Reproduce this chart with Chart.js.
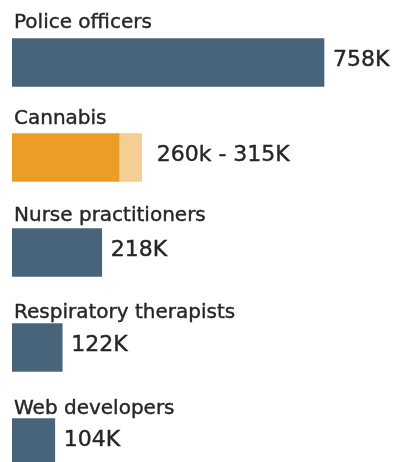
<!DOCTYPE html>
<html>
<head>
<meta charset="utf-8">
<script src="https://cdn.jsdelivr.net/npm/chart.js@4"></script>
<style>
  html, body { margin: 0; padding: 0; background: #fff; overflow: hidden; }
  #wrap { width: 402px; height: 490px; }
</style>
</head>
<body>
<div id="wrap"><canvas id="barChart" width="402" height="490"></canvas></div>
<script>
const categories = ["Police officers", "Cannabis", "Nurse practitioners", "Respiratory therapists", "Web developers"];
const jobs = [758, 260, 218, 122, 104];
const cannabisHigh = [null, [260, 315], null, null, null];
const valueLabels = ["758K", "260k - 315K", "218K", "122K", "104K"];

const slate = "#48647a";
const orange = "#eb9d28";
const lightOrange = "#f5ce93";

// draws the category name above each bar and the value to its right
const rowLabels = {
    id: "rowLabels",
    afterDatasetsDraw(chart) {
        const ctx = chart.ctx;
        const meta0 = chart.getDatasetMeta(0);
        const meta1 = chart.getDatasetMeta(1);
        ctx.save();
        ctx.fillStyle = "#262626";
        ctx.strokeStyle = "#262626";
        ctx.lineWidth = 0.4;
        meta0.data.forEach((bar, i) => {
            const top = bar.y - bar.height / 2;
            ctx.font = "20px 'DejaVu Sans'";
            ctx.textAlign = "left";
            ctx.textBaseline = "alphabetic";
            const ly = top - (11 - 1.7 * i);
            ctx.fillText(categories[i], chart.chartArea.left + 2, ly);
            ctx.strokeText(categories[i], chart.chartArea.left + 2, ly);

            let end = bar.x;
            const extra = meta1.data[i];
            if (cannabisHigh[i] && extra) end = Math.max(end, extra.x);
            ctx.font = "22px 'DejaVu Sans'";
            ctx.textBaseline = "middle";
            const vx = end + (cannabisHigh[i] ? 15 : 9);
            ctx.fillText(valueLabels[i], vx, bar.y - 2);
            ctx.strokeText(valueLabels[i], vx, bar.y - 2);
        });
        ctx.restore();
    }
};

new Chart(document.getElementById("barChart"), {
    type: "bar",
    data: {
        labels: categories,
        datasets: [{
            data: jobs,
            backgroundColor: jobs.map((v, i) => i === 1 ? orange : slate),
            barThickness: 48,
            grouped: false,
            order: 0
        }, {
            data: cannabisHigh,
            backgroundColor: lightOrange,
            barThickness: 48,
            grouped: false,
            order: 1
        }]
    },
    options: {
        indexAxis: "y",
        responsive: false,
        animation: false,
        layout: { padding: { left: 12, top: 15, right: 0, bottom: 0 } },
        plugins: { legend: { display: false }, tooltip: { enabled: false } },
        scales: {
            x: { display: false, min: 0, max: 947.5 },
            y: { display: false }
        }
    },
    plugins: [rowLabels]
});
</script>
</body>
</html>
